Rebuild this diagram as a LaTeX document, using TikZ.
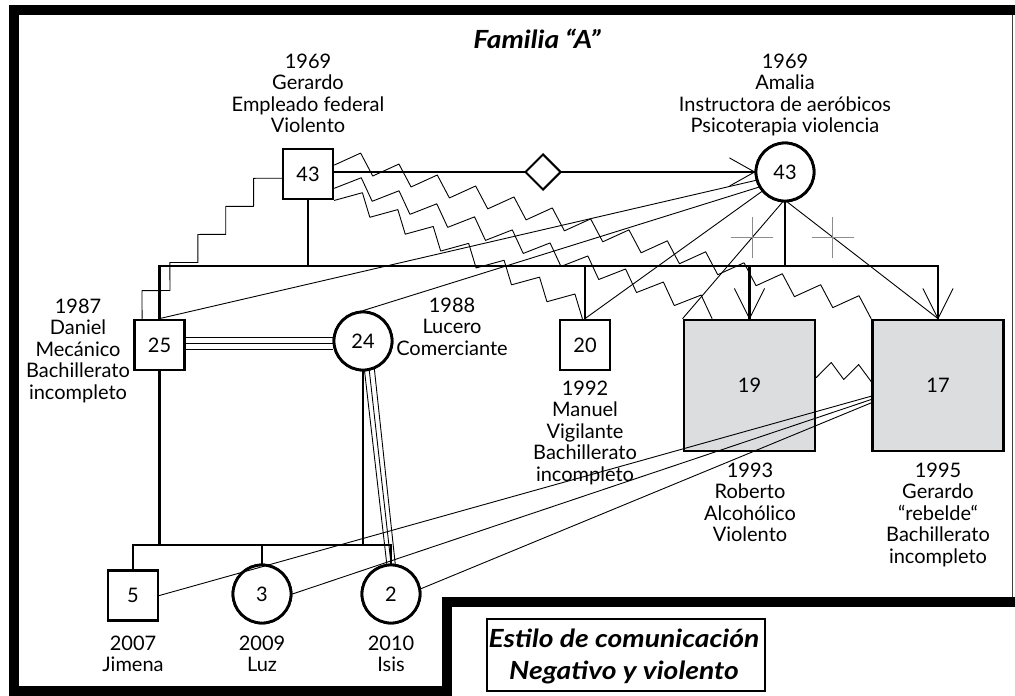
\documentclass[tikz,border=0pt]{standalone}
\usepackage{fontspec}
\usepackage{graphicx}
\setmainfont{Lato}
\usetikzlibrary{shapes.geometric,calc}
\definecolor{idgrey}{HTML}{DCDDDF}
\definecolor{crossgrey}{HTML}{8C8C8C}
\newcommand\bodyfs{\fontsize{20}{21.5}\selectfont}
\newcommand\bigbi{\fontsize{25}{30}\selectfont\bfseries\itshape}
\newcommand\wide[1]{\scalebox{1.13}[1]{#1}}
% zigzag connector: start, end, number of segments, offset, shift
\newcommand\myzig[5]{%
  \coordinate (zfar) at ($(#1)!2!(#2)$);
  \foreach \k in {0,...,#3}{
    \pgfmathsetmacro\zt{(\k+mod(\k,2)*(#5))/(#3)}
    \pgfmathsetmacro\zo{mod(\k,2)*(#4)}
    \coordinate (zp) at ($(#1)!\zt!(#2)$);
    \coordinate (zv\k) at ($(zp)!\zo pt!90:(zfar)$);
  }
  \draw[thn] (zv0) \foreach \k in {1,...,#3}{ -- (zv\k)};
}
\newcommand\txtblock[4]{%
  \foreach \ltext [count=\i] in {#4} {
    \node[lbl] (#1\i) at (#2, {#3+(\i-1)*21.5}) {\ltext};
  }
}
\begin{document}
\begin{tikzpicture}[x=1pt,y=-1pt,
  thk/.style={line width=2.8pt, line cap=rect},
  thn/.style={line width=0.9pt, line join=round, line cap=round},
  sbox/.style={draw, line width=2.8pt, fill=white, minimum size=50pt, inner sep=0pt, font=\bodyfs},
  bbox/.style={draw, line width=2.8pt, fill=idgrey, minimum size=131pt, inner sep=0pt, font=\bodyfs},
  pcirc/.style={circle, draw, line width=2.8pt, fill=white, minimum size=58pt, inner sep=0pt, font=\bodyfs},
  lbl/.style={anchor=base, inner sep=0pt, font=\bodyfs},
  crs/.style={draw=crossgrey, line width=1.1pt},
  framest/.style={line width=10pt, line join=miter}]
\useasboundingbox (0,0) rectangle (1015,696);
% frame
\draw[framest] (1015,10) -- (13.5,10) -- (13.5,691) -- (447,691) -- (447,602) -- (1015,602);
\draw[black!75, line width=1pt] (1012.5,15) -- (1012.5,597);

% people
\node[sbox] (ger) at (308,174) {43};
\node[pcirc] (ama) at (785,172) {43};
\node[sbox] (dan) at (159.5,345) {25};
\node[pcirc] (luc) at (363,341) {24};
\node[sbox] (man) at (585,345) {20};
\node[bbox] (rob) at (749.5,385.5) {19};
\node[bbox] (gjr) at (938,385.5) {17};
\node[sbox] (jim) at (133,595.5) {5};
\node[pcirc] (luz) at (262,594) {3};
\node[pcirc] (isi) at (391,594) {2};

% family lines
\coordinate (sibL) at (159.5,266);
\coordinate (sibR) at (938,266);
\coordinate (ksL) at (133,545);
\coordinate (ksR) at (391,545);
\draw[thk] (sibL) -- (sibR);
\draw[thk] (ger.south) -- (ger.south |- sibL);
\draw[thk] (ama.south) -- (ama.south |- sibL);
\draw[thk] (dan.north) -- (sibL);
\draw[thk] (man.north) -- (man.north |- sibL);
\draw[thk] (rob.north) -- (rob.north |- sibL);
\draw[thk] (gjr.north) -- (sibR);
\draw[thk] (ksL) -- (ksR);
\draw[thk] (dan.south) -- (dan.south |- ksL);
\draw[thk] (luc.south) -- (luc.south |- ksL);
\draw[thk] (jim.north) -- (ksL);
\draw[thk] (luz.north) -- (luz.north |- ksL);
\draw[thk] (isi.north) -- (ksR);
\draw[thk] (ger.east |- ama.west) -- (ama.west);
\node[diamond, draw, line width=2pt, fill=white, minimum size=36pt, inner sep=0pt] (dia) at (543,172) {};

% redraw node shapes over the line caps
\node[sbox] at (ger) {43};
\node[sbox] at (dan) {25};
\node[sbox] at (man) {20};
\node[bbox] at (rob) {19};
\node[bbox] at (gjr) {17};
\node[sbox] at (jim) {5};
\node[pcirc] at (ama) {43};
\node[pcirc] at (luc) {24};
\node[pcirc] at (luz) {3};
\node[pcirc] at (isi) {2};

% arrow at Amalia
\draw[thn] ($(ama.west)+(-25,-14)$) -- (ama.west) -- ($(ama.west)+(-25,14)$);
% Amalia relations
\draw[thn] (ama.-140) -- (man.north);
\draw[thn] (ama.-95) -- coordinate[pos=0.3] (xr) (rob.north west);
\draw[thn] (ama.-85) -- coordinate[pos=0.3] (xg) (gjr.north);
\draw[thn] (dan.north) -- (ama.-164);
\draw[thn] (luc.north) -- (ama.-150);
\draw[crs] ($(xr)+(-21,0)$) -- ($(xr)+(21,0)$) ($(xr)+(0,-20)$) -- ($(xr)+(0,21)$);
\draw[crs] ($(xg)+(-21,0)$) -- ($(xg)+(21,0)$) ($(xg)+(0,-20)$) -- ($(xg)+(0,21)$);
\draw[thn] ($(rob.north)+(-15,-30)$) -- (rob.north) -- ($(rob.north)+(15,-30)$);
\draw[thn] ($(gjr.north)+(-15,-30)$) -- (gjr.north) -- ($(gjr.north)+(15,-30)$);

% triple lines
\foreach \d in {-8,-2,4}{
  \coordinate (tp) at ($(dan.east)+(0,\d)$);
  \draw[thn] (tp) -- (tp -| luc.west);
}
\draw[thn] (luc.-87) -- (isi.98);
\draw[thn] (luc.-78) -- (isi.90);
\draw[thn] (luc.-68) -- (isi.82);

% Gerardo jr to children
\coordinate (gk1) at ($(gjr.north west)!0.58!(gjr.south west)$);
\coordinate (gk2) at ($(gjr.north west)!0.605!(gjr.south west)$);
\coordinate (gk3) at ($(gjr.north west)!0.63!(gjr.south west)$);
\draw[thn] (gk1) -- (jim.east);
\draw[thn] (gk2) -- (luz.east);
\draw[thn] (gk3) -- (isi.10);

% zigzags
\coordinate (zA0) at ($(ger.north east)!0.33!(ger.south east)$);
\myzig{zA0}{gjr.north west}{28}{18.7}{0.1}
\coordinate (zB0) at ($(ger.north east)!0.77!(ger.south east)$);
\coordinate (zB1) at ($(rob.north west)!0.22!(rob.north east)$);
\myzig{zB0}{zB1}{20}{18.7}{0.1}
\coordinate (zC1) at ($(man.north west)!0.45!(man.north east)$);
\myzig{ger.south east}{zC1}{14}{19}{0.12}
\coordinate (zD0) at ($(ger.north west)!0.58!(ger.south west)$);
\coordinate (zD1) at ($(dan.north west)!0.17!(dan.north east)$);
\myzig{zD0}{zD1}{10}{-19.8}{0}
\coordinate (zE0) at ($(rob.north east)!0.44!(rob.south east)$);
\coordinate (zE1) at ($(gjr.north west)!0.47!(gjr.south west)$);
\myzig{zE0}{zE1}{4}{16}{0}

% texts
\node[anchor=base, inner sep=0pt, font=\bigbi] (title) at (537,48) {\wide{Familia “A”}};
\txtblock{gerT}{308}{68}{1969,Gerardo,Empleado federal,Violento}
\txtblock{amaT}{785}{68}{1969,Amalia,Instructora de aeróbicos,Psicoterapia violencia}
\txtblock{danT}{78}{313}{1987,Daniel,Mecánico,Bachillerato,incompleto}
\txtblock{lucT}{452}{312}{1988,Lucero,Comerciante}
\txtblock{manT}{585}{395}{1992,Manuel,Vigilante,Bachillerato,incompleto}
\txtblock{robT}{750}{477}{1993,Roberto,Alcohólico,Violento}
\txtblock{gjrT}{938}{477}{1995,Gerardo,“rebelde“,Bachillerato,incompleto}
\txtblock{jimT}{133}{650}{2007,Jimena}
\txtblock{luzT}{262}{650}{2009,Luz}
\txtblock{isiT}{391}{650}{2010,Isis}

% legend
\node[draw, line width=1.6pt, minimum width=278pt, minimum height=72pt, inner sep=0pt] (leg) at (626,655) {};
\node[anchor=base, inner sep=0pt, font=\bigbi] (leg1) at (624,647) {\wide{Estilo de comunicación}};
\node[anchor=base, inner sep=0pt, font=\bigbi] (leg2) at (624,679) {\wide{Negativo y violento}};
\end{tikzpicture}
\end{document}
